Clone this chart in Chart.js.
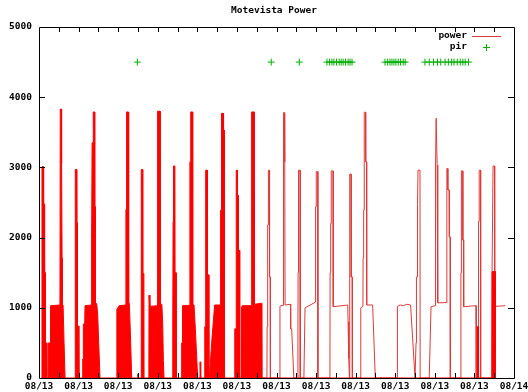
<!DOCTYPE html>
<html><head><meta charset="utf-8">
<script src="https://cdn.jsdelivr.net/npm/chart.js@4.4.0/dist/chart.umd.min.js"></script>
<style>html,body{margin:0;padding:0;background:#fff;}canvas{display:block;}</style>
</head><body>
<canvas id="c" width="528" height="392"></canvas>
<script>
const titleText = 'Motevista Power';
const xTickLabels = ['08/13','08/13','08/13','08/13','08/13','08/13','08/13','08/13','08/13','08/13','08/13','08/13','08/14'];
const yTickValues = [0,1000,2000,3000,4000,5000];

// minutes after 00:00 on 08/13; rapid-cycling periods drawn as solid envelopes
const denseMinutes = [8,9,13,14,16,17,19,19.5,23,24,
 28.5,29,34.5,35,63.5,64.5,68,68.5,70,70.5,73,76,79,
 109.5,110,114,114.5,116,116.5,120,121,
 132,132.5,134,134.5,138.5,139.5,158,158.5,160.5,161,164,164.5,168.5,169,170.5,171,175,178,181,185,
 235.5,236,243,263,263.5,265,265.5,270.5,271,272,272.5,274,278,281,
 299.5,300,300.5,
 309.5,310,314,314.5,318,318.5,
 333,333.5,336,336.5,359,359.5,367,367.5,372.5,375,377,379,
 404.5,405,406,406.5,407.5,408,412,412.5,415.5,416,
 432,432.5,434,435,457,457.5,459.5,460,465.5,466,470,474,478,481,
 488,488.5,490,490.5,
 502,502.5,504,504.5,505.5,506,510,510.5,514.5,515,
 516.5,524,532.5,550,550.5,552,552.5,553.5,554,559,559.5,561,561.5,562.5,
 593,593.5,597.5,598,601,601.5,604,604.5,608,608.5,
 613.5,614,616,643,643.5,645,645.5,652,652.5,676,676.5,
 1328.5,1329,1332,1332.5,
 1373,1373.5,1383,1383.5];
const denseWatts = [0,3010,3010,2480,2480,1500,1500,500,500,0,
 0,500,500,1030,1040,3830,3830,3060,1710,1040,1040,500,0,
 0,2970,2970,2210,2210,740,740,0,
 0,270,270,770,770,1030,1040,1970,1970,3350,3350,3790,3790,2440,2440,1060,1060,900,500,0,
 0,980,1030,1040,2400,2400,3790,3790,2400,2400,1060,1060,500,0,
 0,60,0,
 0,2970,2970,1490,1490,0,
 0,1180,1180,1020,1030,3800,3800,1050,1050,780,250,0,
 0,740,740,2230,2230,3020,3020,1500,1500,0,
 0,500,500,1030,1035,3080,3080,3790,3790,1040,1040,700,300,0,
 0,230,230,0,
 0,730,730,2230,2230,2960,2960,1470,1470,0,
 0,540,1040,1040,2390,2390,3300,3300,3770,3770,3530,3530,1000,0,
 0,700,700,2960,2960,2600,2600,1820,1820,0,
 0,1000,1030,1030,3080,3080,3790,3790,1050,1065,0,
 0,730,730,0,
 0,1515,1515,0];

// sparse part of the power trace
const lineMinutes = [676.5,
 691,691.5,693,693.5,695,695.5,698.5,699,701,701.5,
 730,730.5,732.5,740,740.5,741.5,742,744,744.5,745.5,746,762.5,763,766,772.5,
 784.5,785,785.5,786.5,787,791.5,792,
 803,806.5,838,838.5,840,840.5,845,845.5,
 882,882.5,884,884.5,885.5,886,891.5,892,936,937,938.5,939.5,941,942,946,946.5,949.5,950,
 975,975.5,982,982.5,984,984.5,985.5,986,990,990.5,993,993.5,1011.5,1019.5,
 1086,1086.5,1095,1105,1115,1126.5,1140,
 1142.5,1143,1144,1144.5,1146,1146.5,1148.5,1149,1155,1155.5,
 1183,1188.5,1201,1201.5,1202,1203,1204,1206.5,1207,1208,1209,1209.5,1236,1236.5,1239,1239.5,1243.5,1244,1246.5,1247,
 1278.5,1279,1280,1280.5,1284.5,1285,1287,1287.5,1310,1325,1325.5,
 1328.5,1329,1332,1332.5,1334,1334.5,1338.5,1339,
 1373,1373.5,1376,1376.5,1381,1381.5,1383,1383.5,1398,1413.5];
const lineWatts = [0,
 0,730,730,2180,2180,2960,2960,1440,1440,0,
 0,1015,1030,1035,2390,2390,3780,3780,3080,3080,1040,1050,700,700,0,
 0,730,1500,1500,2960,2960,0,
 0,1000,1080,2440,2440,2940,2940,0,
 0,1500,1500,2200,2200,2950,2950,1015,1040,800,800,280,0,2905,2905,1440,1440,0,
 0,1000,1020,1710,1710,2390,2390,3785,3785,3080,3080,1040,1040,0,
 0,1020,1040,1030,1050,1040,0,
 0,500,500,1440,1440,2470,2470,2960,2960,0,
 0,1015,1030,1710,2355,3035,3700,3700,3035,2355,1710,1070,1075,2985,2985,2680,2680,2010,2010,0,
 0,1500,1500,2950,2950,1965,1965,1015,1025,1030,0,
 0,730,730,2230,2230,2960,2960,0,
 0,1515,1515,3020,3020,1515,1515,1020,1025,1030];

const pirMinutes = [298,704,789,873,881,888,894,902,910,916,922,929,937,943,949,
 1049,1057,1064,1070,1076,1082,1089,1096,1104,1110,
 1170,1183,1196,1208,1218,1231,1241,1251,1258,1268,1277,1285,1292,1302];
const pirValues = [4500,4500,4500,4500,4500,4500,4500,4500,4500,4500,4500,4500,4500,4500,4500,
 4500,4500,4500,4500,4500,4500,4500,4500,4500,4500,
 4500,4500,4500,4500,4500,4500,4500,4500,4500,4500,4500,4500,4500,4500];

const RED = '#ff0000', LINE_RED = 'rgb(222,58,58)', GREEN = '#00b000';
const FONT = '"DejaVu Sans Mono", "Liberation Mono", monospace';
const zip = (xs, ys) => xs.map((x, i) => ({x, y: ys[i]}));

const frame = {
  id: 'frame',
  afterDatasetsDraw(chart) {
    const {ctx, chartArea: a, scales} = chart;
    const sx = scales.x, sy = scales.y;
    ctx.save();
    ctx.strokeStyle = '#000';
    ctx.lineWidth = 1;
    ctx.beginPath();
    ctx.rect(a.left + 0.5, a.top + 0.5, a.right - a.left, a.bottom - a.top);
    for (let m = 60; m < 1440; m += 60) {
      const p = Math.round(sx.getPixelForValue(m)) + 0.5;
      ctx.moveTo(p, a.bottom); ctx.lineTo(p, a.bottom - 5);
      ctx.moveTo(p, a.top); ctx.lineTo(p, a.top + 5);
    }
    yTickValues.slice(1, -1).forEach(v => {
      const p = Math.round(sy.getPixelForValue(v)) + 0.5;
      ctx.moveTo(a.left, p); ctx.lineTo(a.left + 6, p);
      ctx.moveTo(a.right, p); ctx.lineTo(a.right - 6, p);
    });
    ctx.stroke();
    // title
    ctx.fillStyle = '#000';
    ctx.font = 'bold 9.5px ' + FONT;
    ctx.textAlign = 'center';
    ctx.textBaseline = 'middle';
    ctx.fillText(titleText, 274, 11);
    // key
    const ds = chart.data.datasets;
    ctx.textAlign = 'right';
    ctx.fillText(ds[1].label, 467, 36);
    ctx.fillText(ds[2].label, 467, 47);
    ctx.strokeStyle = LINE_RED;
    ctx.beginPath(); ctx.moveTo(472, 36.5); ctx.lineTo(501, 36.5); ctx.stroke();
    ctx.strokeStyle = GREEN;
    ctx.beginPath();
    ctx.moveTo(483, 47.5); ctx.lineTo(490, 47.5);
    ctx.moveTo(486.5, 44); ctx.lineTo(486.5, 51);
    ctx.stroke();
    ctx.restore();
  }
};

new Chart(document.getElementById('c'), {
  type: 'line',
  data: {
    datasets: [
      {label: 'power', data: zip(denseMinutes, denseWatts), borderColor: RED, backgroundColor: RED,
       borderWidth: 1, fill: 'origin', pointRadius: 0, tension: 0},
      {label: 'power', data: zip(lineMinutes, lineWatts), borderColor: LINE_RED, borderWidth: 1,
       fill: false, pointRadius: 0, tension: 0},
      {label: 'pir', data: zip(pirMinutes, pirValues), showLine: false, pointStyle: 'cross',
       pointRadius: 3.5, pointBorderWidth: 1, borderColor: GREEN, backgroundColor: GREEN}
    ]
  },
  options: {
    responsive: false,
    animation: false,
    devicePixelRatio: 1,
    layout: {padding: {top: 27, right: 14, left: 0, bottom: 0}},
    plugins: {legend: {display: false}, title: {display: false}, tooltip: {enabled: false}},
    scales: {
      x: {
        type: 'linear', min: 0, max: 1440,
        grid: {display: false, drawTicks: false}, border: {display: false},
        ticks: {stepSize: 120, autoSkip: false, maxRotation: 0, padding: 3, color: '#000',
                font: {family: FONT, size: 9.5, weight: 'bold'},
                callback: v => xTickLabels[Math.round(v / 120)]},
        afterFit: s => { s.height = 14; s.paddingLeft = 0; s.paddingRight = 0; }
      },
      y: {
        min: 0, max: 5000,
        grid: {display: false, drawTicks: false}, border: {display: false},
        ticks: {stepSize: 1000, padding: 7, color: '#000',
                font: {family: FONT, size: 9.5, weight: 'bold'},
                callback: v => String(v)},
        afterFit: s => { s.width = 39; }
      }
    }
  },
  plugins: [frame]
});
</script>
</body></html>
